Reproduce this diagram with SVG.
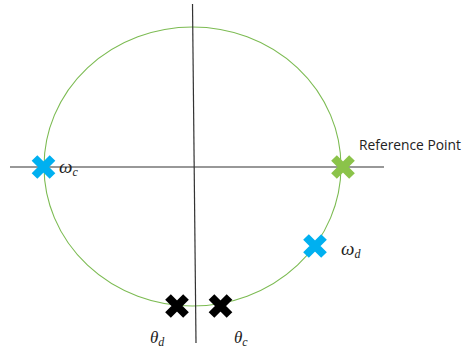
<svg xmlns="http://www.w3.org/2000/svg" xmlns:xlink="http://www.w3.org/1999/xlink" width="464" height="349" viewBox="0 0 464 349">
<style>
.axis{stroke:#333;stroke-width:1.2;fill:none}
.circ{stroke:#7cbb52;stroke-width:1.1;fill:none}
.lbl{font-family:"Liberation Serif","DejaVu Serif",serif;font-style:italic;font-size:17px;fill:#222}
.om{font-size:19px}
.sub{font-size:12px}
.ref{font-family:"Open Sans","Liberation Sans",sans-serif;font-size:13.8px;fill:#222}
</style>
<defs>
<g id="x"><path d="M-9,-9 L9,9 M-9,9 L9,-9" stroke-width="8" fill="none"/></g>
</defs>
<rect width="464" height="349" fill="#fff"/>
<g id="connectors">
<ellipse class="circ" cx="192.5" cy="166.5" rx="148.5" ry="139.5"/>
<line class="axis" x1="10" y1="167" x2="384" y2="167"/>
<line class="axis" x1="192.5" y1="4" x2="196" y2="343"/>
</g>
<g id="wc">
<use xlink:href="#x" x="43.5" y="167" stroke="#00b0f0"/>
<text class="lbl" x="59" y="173"><tspan class="om">ω</tspan><tspan class="sub" dy="3">c</tspan></text>
</g>
<g id="ref">
<use xlink:href="#x" x="343" y="167" stroke="#8bc34a"/>
<text class="ref" x="359" y="150">Reference Point</text>
</g>
<g id="wd">
<use xlink:href="#x" x="315" y="246" stroke="#00b0f0"/>
<text class="lbl" x="341" y="255"><tspan class="om">ω</tspan><tspan class="sub" dy="3">d</tspan></text>
</g>
<g id="td">
<use xlink:href="#x" x="177" y="306" stroke="#000"/>
<text class="lbl" x="150" y="343">θ<tspan class="sub" dy="3">d</tspan></text>
</g>
<g id="tc">
<use xlink:href="#x" x="220.5" y="306" stroke="#000"/>
<text class="lbl" x="234" y="343">θ<tspan class="sub" dy="3">c</tspan></text>
</g>
</svg>
